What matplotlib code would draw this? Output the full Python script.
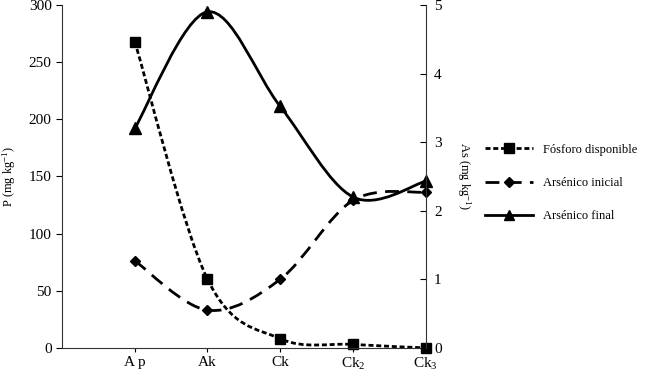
import matplotlib
matplotlib.use('Agg')
import matplotlib.pyplot as plt
from matplotlib.path import Path
from matplotlib.patches import PathPatch
from matplotlib.lines import Line2D

plt.rcParams['font.family'] = 'Liberation Serif'
plt.rcParams['mathtext.fontset'] = 'custom'
plt.rcParams['mathtext.rm'] = 'Liberation Serif'
plt.rcParams['mathtext.it'] = 'Liberation Serif'

# Datos
horizontes = ['A p', 'Ak', 'Ck', 'Ck$_2$', 'Ck$_3$']
fosforo = [268, 60, 8, 3, 0]              # P (mg kg-1), eje izquierdo
as_inicial = [1.27, 0.55, 1.0, 2.15, 2.27]  # As (mg kg-1), eje derecho
as_final = [3.2, 4.9, 3.52, 2.2, 2.43]


def curva_suave(ax, xs, ys, **kw):
    # curva suavizada tipo Excel (Bezier cúbica por tramos)
    pts = list(zip(xs, ys))
    verts = [pts[0]]
    codes = [Path.MOVETO]
    n = len(pts)
    for i in range(n - 1):
        p0 = pts[max(i - 1, 0)]
        p1 = pts[i]
        p2 = pts[i + 1]
        p3 = pts[min(i + 2, n - 1)]
        c1 = (p1[0] + (p2[0] - p0[0]) / 6, p1[1] + (p2[1] - p0[1]) / 6)
        c2 = (p2[0] - (p3[0] - p1[0]) / 6, p2[1] - (p3[1] - p1[1]) / 6)
        verts += [c1, c2, p2]
        codes += [Path.CURVE4] * 3
    ax.add_patch(PathPatch(Path(verts, codes), fill=False, transform=ax.transData,
                           clip_on=False, **kw))


fig = plt.figure(figsize=(6.46, 3.81), dpi=100)
ax = fig.add_axes([0.096, 0.087, 0.563, 0.9])
ax2 = ax.twinx()

x = list(range(1, len(horizontes) + 1))

estilo_p = dict(color='black', linewidth=2, linestyle=(0, (1.8, 1)))
estilo_ini = dict(color='black', linewidth=2, linestyle=(0, (5, 3)))
estilo_fin = dict(color='black', linewidth=2, linestyle='-')

curva_suave(ax, x, fosforo, **estilo_p)
ax.plot(x, fosforo, linestyle='none', marker='s', markersize=7, color='black', clip_on=False)

curva_suave(ax2, x, as_inicial, **estilo_ini)
ax2.plot(x, as_inicial, linestyle='none', marker='D', markersize=5, color='black', clip_on=False)
curva_suave(ax2, x, as_final, **estilo_fin)
ax2.plot(x, as_final, linestyle='none', marker='^', markersize=8, color='black', clip_on=False)

ax.set_xlim(0, 5)
ax.set_ylim(0, 300)
ax2.set_ylim(0, 5)
ax.set_xticks(x)
ax.set_xticklabels(horizontes)
ax.set_yticks(range(0, 301, 50))
ax2.set_yticks(range(0, 6))

for a in (ax, ax2):
    a.spines['top'].set_visible(False)
    for s in a.spines.values():
        s.set_linewidth(0.8)
        s.set_color('#333333')
ax.spines['right'].set_visible(False)
ax2.spines['left'].set_visible(False)
ax2.spines['bottom'].set_visible(False)

ax.tick_params(axis='y', direction='out', length=4, labelsize=11)
ax.tick_params(axis='x', direction='out', length=3, labelsize=11, pad=3)
ax2.tick_params(axis='y', direction='in', length=4, labelsize=11, pad=6)

ax.set_ylabel('P (mg kg$^{-1}$)', fontsize=9, labelpad=8)
ax2.set_ylabel('As (mg kg$^{-1}$)', fontsize=9, rotation=270, labelpad=22)

handles = [
    Line2D([], [], marker='s', markersize=7, **estilo_p),
    Line2D([], [], marker='D', markersize=5, **estilo_ini),
    Line2D([], [], marker='^', markersize=7, **estilo_fin),
]
fig.legend(handles, ['Fósforo disponible', 'Arsénico inicial', 'Arsénico final'],
           loc='center left', bbox_to_anchor=(0.751, 0.52), frameon=False,
           fontsize=9, handlelength=3.8, labelspacing=1.7, handletextpad=0.8,
           borderpad=0, borderaxespad=0)

fig.savefig('out.png', dpi=100)
